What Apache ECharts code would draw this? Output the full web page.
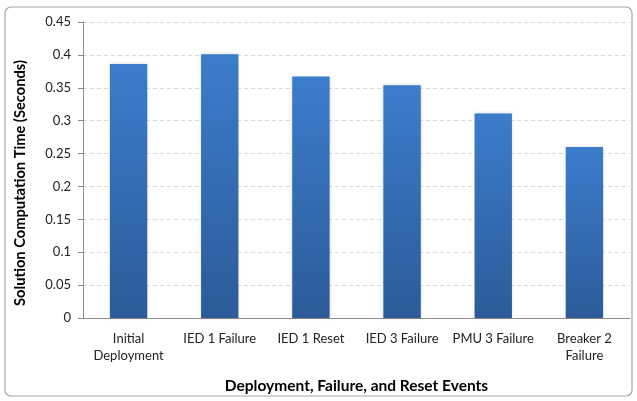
<!DOCTYPE html>
<html>
<head>
<meta charset="utf-8">
<script src="https://cdn.jsdelivr.net/npm/echarts@6/dist/echarts.min.js"></script>
<style>
  html, body { margin: 0; padding: 0; background: #fff; }
  #chart { width: 637px; height: 401px; }
</style>
</head>
<body>
<div id="chart"></div>
<script>
const categories = ['Initial\nDeployment', 'IED 1 Failure', 'IED 1 Reset', 'IED 3 Failure', 'PMU 3 Failure', 'Breaker 2\nFailure']
const times = [0.386, 0.401, 0.367, 0.354, 0.311, 0.260]
const yTicks = { min: 0, max: 0.45, interval: 0.05 }

const myChart = echarts.init(document.getElementById('chart'))
const font = 'Lato, "Open Sans", sans-serif'

const option = {
  animation: false,
  graphic: [{
    type: 'rect',
    shape: { x: 5, y: 7, width: 627, height: 389, r: 6 },
    style: { fill: 'none', stroke: '#a6a6a6', lineWidth: 1.2 },
    silent: true
  }],
  grid: { left: 83, right: 7, top: 22, bottom: 83 },
  xAxis: {
    type: 'category',
    data: categories,
    name: 'Deployment, Failure, and Reset Events',
    nameLocation: 'middle',
    nameGap: 60,
    nameTextStyle: { fontFamily: font, fontSize: 15.5, fontWeight: 'bold', color: '#000' },
    axisLine: { lineStyle: { color: '#8c8c8c' } },
    axisTick: { length: 5, lineStyle: { color: '#8c8c8c' } },
    axisLabel: { fontFamily: font, fontSize: 13, color: '#222', margin: 12, lineHeight: 17, interval: 0 }
  },
  yAxis: {
    type: 'value',
    min: yTicks.min,
    max: yTicks.max,
    interval: yTicks.interval,
    name: 'Solution Computation Time (Seconds)',
    nameLocation: 'middle',
    nameGap: 55,
    nameTextStyle: { fontFamily: font, fontSize: 14.7, fontWeight: 'bold', color: '#000', padding: [0, 26, 0, 0] },
    axisLine: { show: true, lineStyle: { color: '#8c8c8c' } },
    axisTick: { show: true, length: 5, lineStyle: { color: '#8c8c8c' } },
    axisLabel: {
      fontFamily: font, fontSize: 13, color: '#222', margin: 12,
      formatter: v => String(+v.toFixed(2))
    },
    splitLine: { lineStyle: { color: '#d9d9d9', type: [4, 3] } }
  },
  series: [{
    type: 'bar',
    data: times,
    barWidth: '41%',
    itemStyle: {
      color: new echarts.graphic.LinearGradient(0, 0, 0, 1, [
        { offset: 0, color: '#3b7dcc' },
        { offset: 1, color: '#2c5b98' }
      ]),
      shadowColor: 'rgba(0,0,0,0.18)',
      shadowBlur: 3
    }
  }]
}

myChart.setOption(option)
</script>
</body>
</html>
